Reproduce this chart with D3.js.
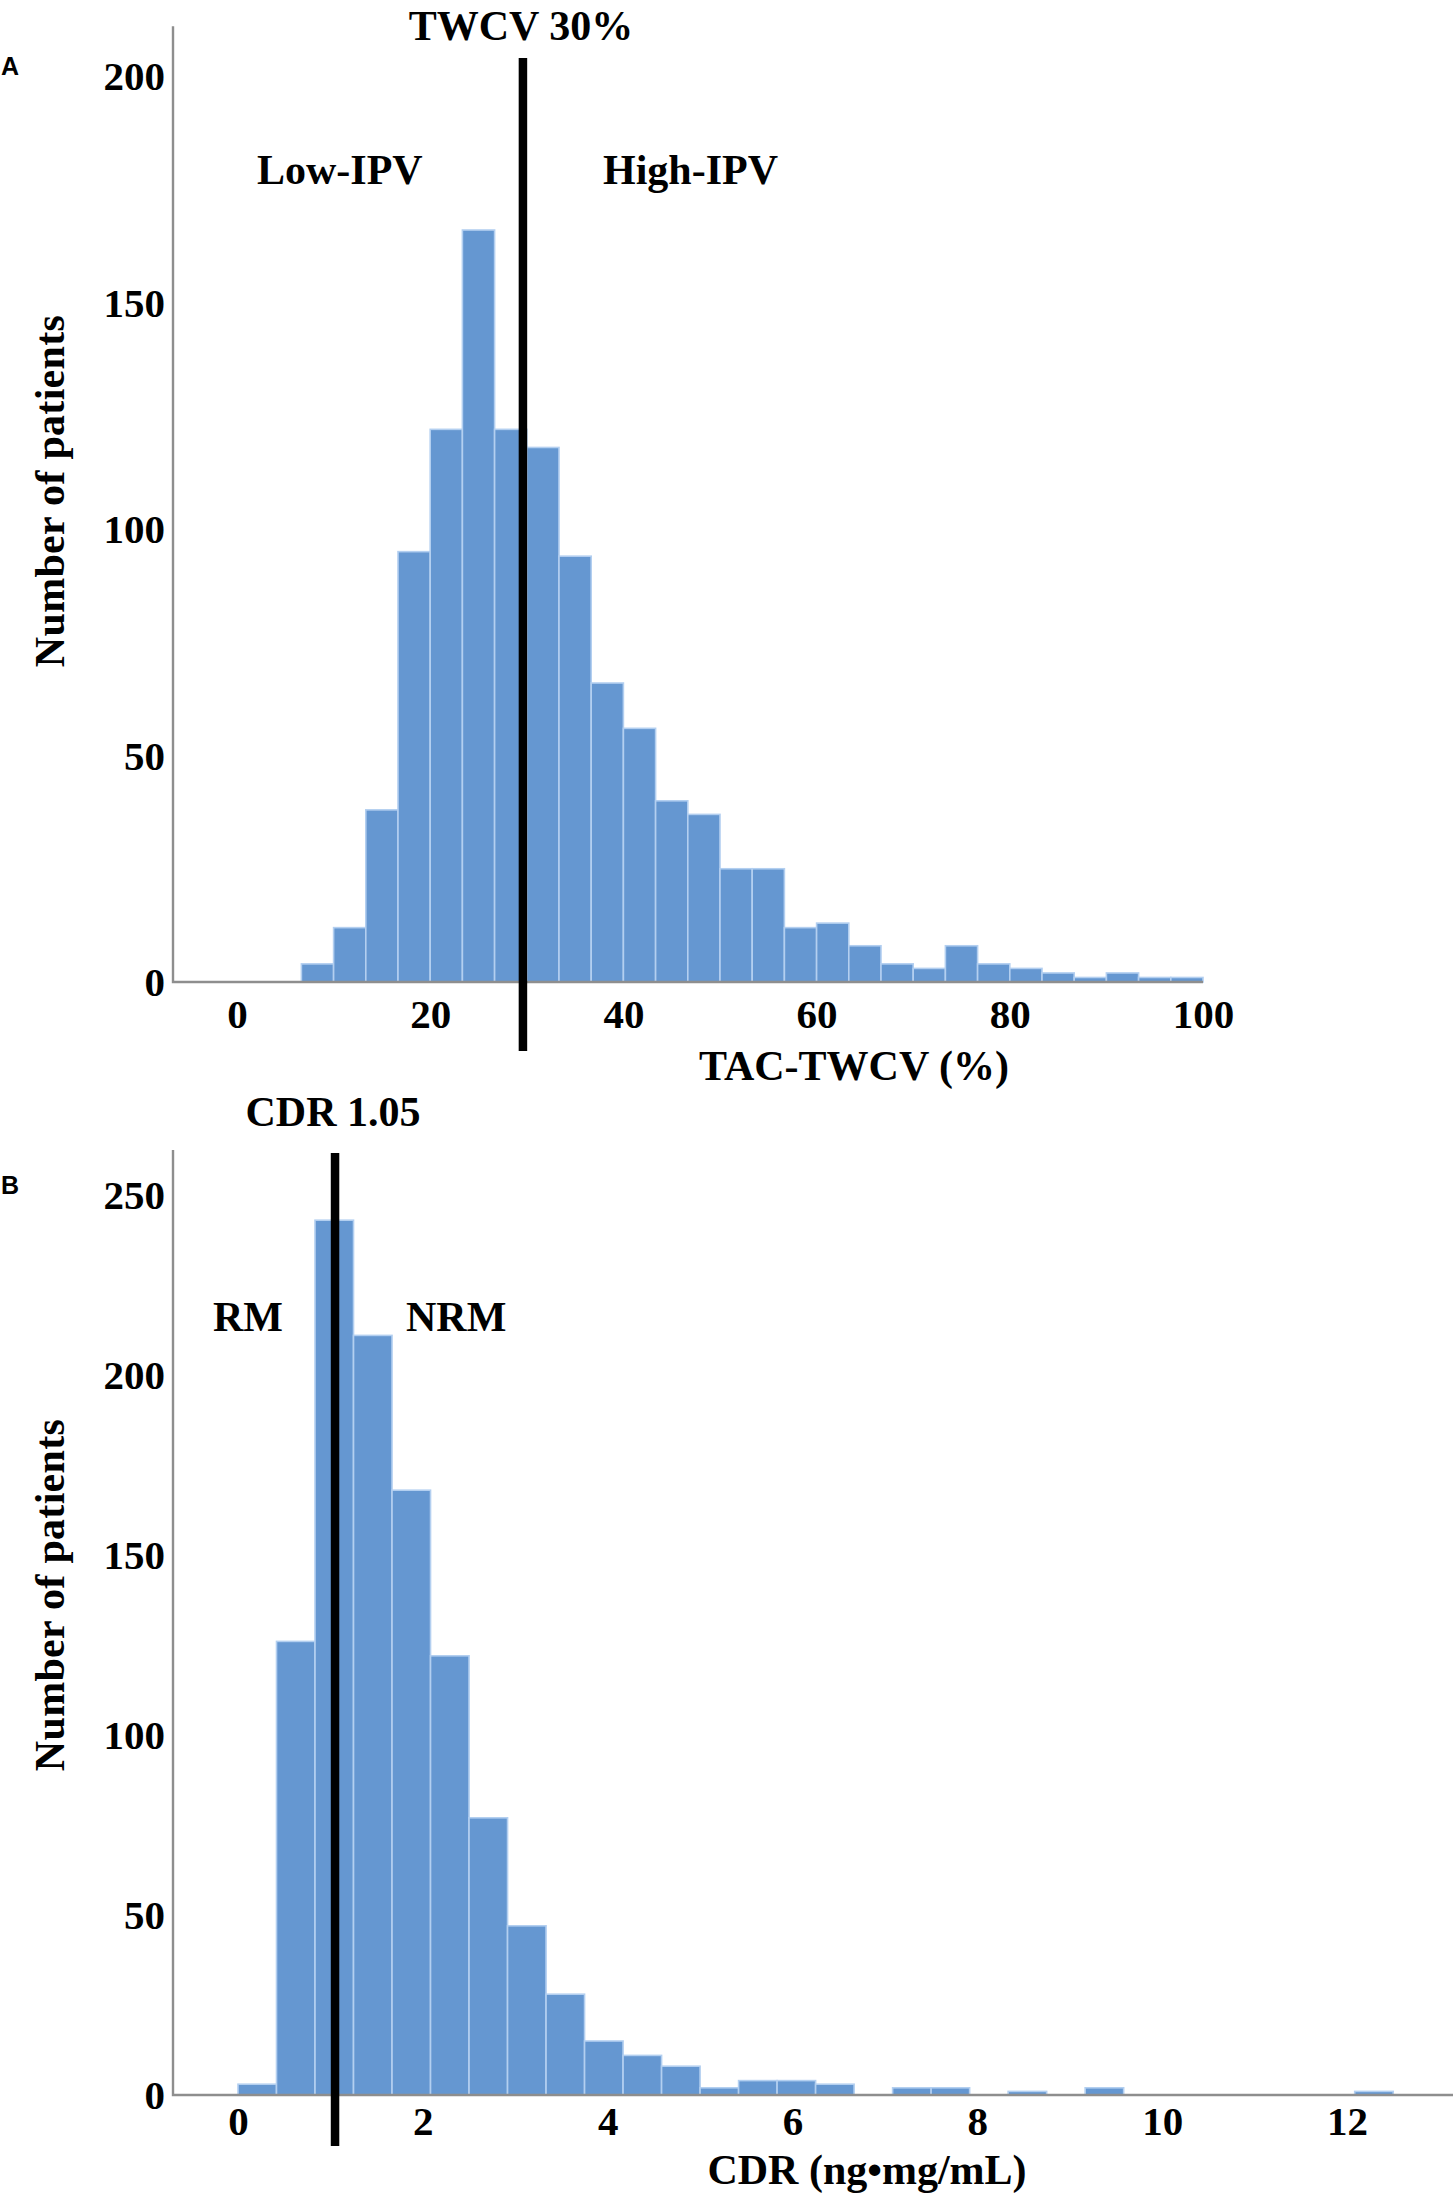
<!DOCTYPE html>
<html>
<head>
<meta charset="utf-8">
<script src="https://cdn.jsdelivr.net/npm/d3@7"></script>
<style>
  html, body { margin: 0; padding: 0; background: #fff; }
  svg { display: block; }
  .serif { font-family: "Liberation Serif", "Times New Roman", serif; font-weight: bold; fill: #000; }
  .sans { font-family: "Liberation Sans", Arial, sans-serif; font-weight: bold; fill: #000; }
</style>
</head>
<body>
<script>
// ---------- DATA ----------
// Panel A: TAC-TWCV (%) histogram, bin width 10/3 starting at 20/3
const binsAStart = 20 / 3;
const binsAWidth = 10 / 3;
const countsA = [4, 12, 38, 95, 122, 166, 122, 118, 94, 66, 56, 40, 37, 25, 25, 12, 13, 8, 4, 3, 8, 4, 3, 2, 1, 2, 1, 1];
const xTicksA = [0, 20, 40, 60, 80, 100];
const yTicksA = [0, 50, 100, 150, 200];
const cutoffA = 29.6;
const cutoffLabelA = "TWCV 30%";
const groupLabelsA = ["Low-IPV", "High-IPV"];
const xTitleA = "TAC-TWCV (%)";

// Panel B: CDR histogram, bin width 5/12 starting at 0
const binsBStart = 0;
const binsBWidth = 5 / 12;
const countsB = [3, 126, 243, 211, 168, 122, 77, 47, 28, 15, 11, 8, 2, 4, 4, 3, 0, 2, 2, 0, 1, 0, 2, 0, 0, 0, 0, 0, 0, 1];
const xTicksB = [0, 2, 4, 6, 8, 10, 12];
const yTicksB = [0, 50, 100, 150, 200, 250];
const cutoffB = 1.05;
const cutoffLabelB = "CDR 1.05";
const groupLabelsB = ["RM", "NRM"];
const xTitleB = "CDR (ng\u2022mg/mL)";

const yTitle = "Number of patients";

// ---------- DRAW ----------
const W = 1453, H = 2197;
const svg = d3.select("body").append("svg").attr("width", W).attr("height", H);

const barFill = "#6597d1";
const barStroke = "#b3cff0";
const axisColor = "#8e8e8e";

function panel(cfg) {
  const g = svg.append("g");
  const x = d3.scaleLinear().domain(cfg.xDomain).range(cfg.xRange);
  const y = d3.scaleLinear().domain(cfg.yDomain).range(cfg.yRange);
  const bins = cfg.counts.map((c, i) => ({
    x0: cfg.start + i * cfg.width,
    x1: cfg.start + (i + 1) * cfg.width,
    c
  }));

  // bars
  g.append("g").selectAll("rect").data(bins.filter(b => b.c > 0)).join("rect")
    .attr("x", d => x(d.x0))
    .attr("width", d => x(d.x1) - x(d.x0))
    .attr("y", d => y(d.c))
    .attr("height", d => y(0) - y(d.c))
    .attr("fill", barFill)
    .attr("stroke", barStroke)
    .attr("stroke-width", 1.6);

  // axis lines (L-shape)
  const x0 = cfg.axisX;
  g.append("path")
    .attr("d", `M${x0},${y(cfg.yTop)} L${x0},${y(0)} L${x(cfg.xEnd)},${y(0)}`)
    .attr("fill", "none")
    .attr("stroke", axisColor)
    .attr("stroke-width", 2.4);

  // y axis labels via d3 axis
  const yAxis = d3.axisLeft(y).tickValues(cfg.yTicks).tickSize(0).tickPadding(8).tickFormat(d3.format("d"));
  const ya = g.append("g").attr("transform", `translate(${x0},0)`).call(yAxis);
  ya.select(".domain").remove();
  ya.selectAll("text").attr("class", "serif").style("font-size", "41px").attr("dy", "0.34em")
    .attr("font-family", null);

  // x axis labels via d3 axis
  const xAxis = d3.axisBottom(x).tickValues(cfg.xTicks).tickSize(0).tickPadding(0).tickFormat(d3.format("d"));
  const xa = g.append("g").attr("transform", `translate(0,${y(0)})`).call(xAxis);
  xa.select(".domain").remove();
  xa.selectAll("text").attr("class", "serif").style("font-size", "41px")
    .attr("dy", null).attr("y", cfg.xLabelOffset);
  svg.selectAll(".tick text").attr("fill", "#000");

  // cutoff line
  g.append("line")
    .attr("x1", x(cfg.cutoff)).attr("x2", x(cfg.cutoff))
    .attr("y1", cfg.cutTop).attr("y2", cfg.cutBottom)
    .attr("stroke", "#000").attr("stroke-width", 8.5);

  // cutoff label
  g.append("text").attr("class", "serif").style("font-size", "42px")
    .attr("x", x(cfg.cutoff) - 2).attr("y", cfg.cutLabelY).attr("text-anchor", "middle")
    .text(cfg.cutLabel);

  // group labels
  g.append("text").attr("class", "serif").style("font-size", "42px")
    .attr("x", cfg.grpX[0]).attr("y", cfg.grpY).text(cfg.groups[0]);
  g.append("text").attr("class", "serif").style("font-size", "42px")
    .attr("x", cfg.grpX[1]).attr("y", cfg.grpY).text(cfg.groups[1]);

  // x title
  g.append("text").attr("class", "serif").style("font-size", "42px")
    .attr("x", cfg.xTitleX).attr("y", cfg.xTitleY).attr("text-anchor", "middle")
    .text(cfg.xTitle);

  // y title
  g.append("text").attr("class", "serif").style("font-size", "42px")
    .attr("transform", `translate(64,${cfg.yTitleY}) rotate(-90)`)
    .attr("text-anchor", "middle").attr("letter-spacing", "0.3px")
    .text(yTitle);

  // panel letter
  g.append("text").attr("class", "sans").style("font-size", "25px")
    .attr("x", 1).attr("y", cfg.letterY).text(cfg.letter);
}

panel({
  counts: countsA, start: binsAStart, width: binsAWidth,
  xDomain: [0, 100], xRange: [237, 1203],
  yDomain: [0, 200], yRange: [982, 76],
  yTop: 211, xEnd: 100, axisX: 173,
  xTicks: xTicksA, yTicks: yTicksA, xLabelOffset: 46,
  cutoff: cutoffA, cutTop: 58, cutBottom: 1051, cutLabel: cutoffLabelA, cutLabelY: 40,
  groups: groupLabelsA, grpX: [257, 603], grpY: 184,
  xTitle: xTitleA, xTitleX: 854, xTitleY: 1080,
  yTitleY: 491, letter: "A", letterY: 75
});

panel({
  counts: countsB, start: binsBStart, width: binsBWidth,
  xDomain: [0, 12], xRange: [238, 1347],
  yDomain: [0, 250], yRange: [2095, 1195],
  yTop: 262.5, xEnd: 13.15, axisX: 173,
  xTicks: xTicksB, yTicks: yTicksB, xLabelOffset: 40,
  cutoff: cutoffB, cutTop: 1153, cutBottom: 2146, cutLabel: cutoffLabelB, cutLabelY: 1126,
  groups: groupLabelsB, grpX: [213, 406], grpY: 1331,
  xTitle: xTitleB, xTitleX: 867, xTitleY: 2184,
  yTitleY: 1595, letter: "B", letterY: 1194
});
</script>
</body>
</html>
